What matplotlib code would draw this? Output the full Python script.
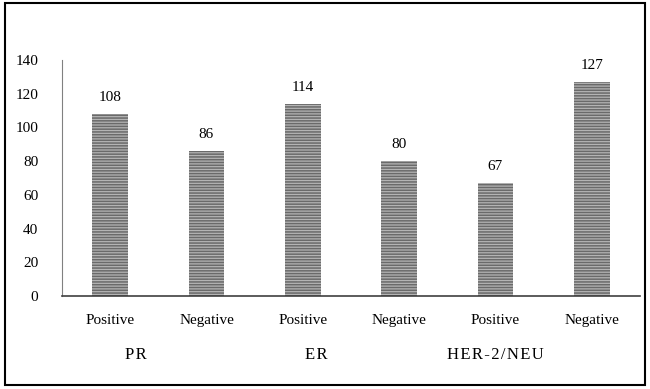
import matplotlib
matplotlib.use("Agg")
import matplotlib.pyplot as plt
from matplotlib.patches import Rectangle

plt.rcParams['hatch.linewidth'] = 1.1

categories = ["Positive", "Negative", "Positive", "Negative", "Positive", "Negative"]
values = [108, 86, 114, 80, 67, 127]
groups = ["PR", "ER", "HER-2/NEU"]
group_pos = [0.27, 2.14, 4.0]
yticks = [0, 20, 40, 60, 80, 100, 120, 140]

FONT = ["Liberation Serif", "DejaVu Serif"]
FS = 11

fig = plt.figure(figsize=(6.5, 3.89), dpi=100)
ax = fig.add_axes([0.0954, 0.239, 0.889, 0.607])

x = list(range(len(values)))
ax.bar(x, values, width=0.37, color="#b4b4b4", edgecolor="#6a6a6a",
       hatch="------", linewidth=0)
for xi, v in zip(x, values):
    ax.text(xi, v + 6, str(v), ha="center", va="bottom", fontsize=FS, family=FONT)

ax.set_xlim(-0.5, 5.5)
ax.set_ylim(0, 140)
ax.set_yticks(yticks)
ax.set_yticklabels([str(t) for t in yticks], family=FONT, fontsize=FS)
ax.set_xticks(x)
ax.set_xticklabels(categories, family=FONT, fontsize=FS)
ax.tick_params(axis="both", length=0)
ax.tick_params(axis="y", pad=17)
ax.tick_params(axis="x", pad=13)
for s in ["top", "right"]:
    ax.spines[s].set_visible(False)
ax.spines["left"].set_color("#808080")
ax.spines["bottom"].set_color("#404040")
ax.spines["bottom"].set_linewidth(1.2)

for g, gp in zip(groups, group_pos):
    ax.text(gp, -0.25, "\u200a".join(g), transform=ax.get_xaxis_transform(),
            ha="center", va="center", fontsize=12, family=FONT)

fig.patches.append(Rectangle((0.008, 0.01), 0.984, 0.982, transform=fig.transFigure,
                             fill=False, edgecolor="black", linewidth=1.5))

fig.savefig("out.png", dpi=100)
